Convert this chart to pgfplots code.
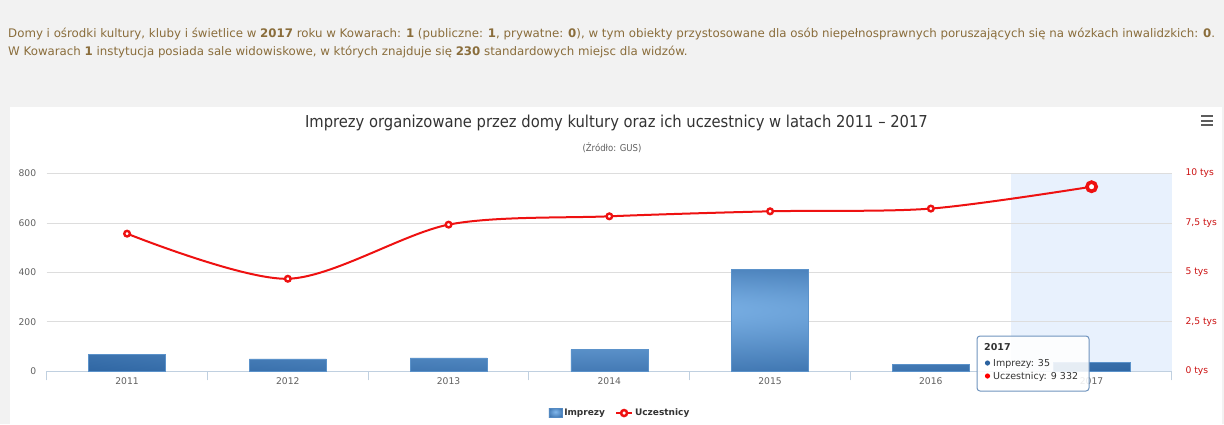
\documentclass[border=0pt]{standalone}
\usepackage{fontspec}
\setmainfont{DejaVu Sans}
\newfontfamily\condfont{DejaVu Sans Condensed}
\usepackage{pgfplots}
\pgfplotsset{compat=1.18}

\definecolor{bgc}{HTML}{F2F2F2}
\definecolor{hdr}{HTML}{8A6D3B}
\definecolor{axisc}{HTML}{C0D0E0}
\definecolor{gridc}{HTML}{DDDDDD}
\definecolor{lab}{HTML}{606060}
\definecolor{ttl}{HTML}{333333}
\definecolor{linec}{HTML}{EE1111}
\definecolor{rlab}{HTML}{CC1111}
\definecolor{band}{HTML}{E8F1FD}
\definecolor{barin}{HTML}{82B8EC}
\definecolor{barout}{HTML}{2C63A0}
\definecolor{tipb}{HTML}{7094BE}

\pgfdeclareradialshading{barshade}{\pgfpoint{0bp}{6bp}}{%
  color(0bp)=(barin); color(38bp)=(barout); color(50bp)=(barout)}

\pgfplotsset{plotarea/.style={scale only axis, width=1125.3pt, height=197.8pt,
  at={(46.7pt,-371.3pt)}, anchor=south west, xmin=-0.5, xmax=6.5}}

\begin{document}
\begin{tikzpicture}
\fill[bgc] (0,0) rectangle (1224pt,-424pt);
\fill[white] (10pt,-107pt) rectangle (1222pt,-424pt);

% header text
\node[anchor=base west, inner sep=0, text=hdr, font=\fontsize{11.8}{14}\selectfont] at (8pt,-37pt)
 {Domy i ośrodki kultury, kluby i świetlice w \textbf{2017} roku w Kowarach: \textbf{1} (publiczne: \textbf{1}, prywatne: \textbf{0}), w tym obiekty przystosowane dla osób niepełnosprawnych poruszających się na wózkach inwalidzkich: \textbf{0}.};
\node[anchor=base west, inner sep=0, text=hdr, font=\fontsize{11.8}{14}\selectfont] at (8pt,-55pt)
 {W Kowarach \textbf{1} instytucja posiada sale widowiskowe, w których znajduje się \textbf{230} standardowych miejsc dla widzów.};

% title, subtitle, menu
\node[text=ttl, font=\condfont\fontsize{16.4}{19}\selectfont] at (616.5pt,-123pt)
 {Imprezy organizowane przez domy kultury oraz ich uczestnicy w latach 2011 – 2017};
\node[text=lab, font=\condfont\fontsize{9.5}{11}\selectfont] at (612pt,-148pt) {(Źródło: GUS)};
\foreach \yy in {116,120.5,125}
  \draw[ttl!80, line width=2pt] (1201pt,-\yy pt) -- (1213pt,-\yy pt);

% hover band for 2017
\begin{axis}[plotarea, ymin=0, ymax=800, hide axis]
\fill[band] (axis cs:5.5,0) rectangle (axis cs:6.5,800);
\end{axis}

\begin{axis}[
  plotarea, ymin=0, ymax=800,
  xtick={0,...,6}, xticklabels={2011,2012,2013,2014,2015,2016,2017},
  minor xtick={-0.5,0.5,...,6.5},
  ytick={0,200,...,800},
  axis x line*=bottom, axis y line*=left,
  x axis line style={draw=axisc, line width=1pt, -},
  y axis line style={draw=none},
  ymajorgrids, grid style={gridc, line width=0.8pt},
  tick align=outside,
  major tick length=0pt, minor tick length=9pt,
  minor x tick style={draw=axisc, line width=1pt},
  major x tick style={draw=none}, y tick style={draw=none},
  /pgf/number format/assume math mode=true,
  ticklabel style={font=\fontsize{9.2}{11}\selectfont, text=lab},
  xticklabel style={yshift=-3pt},
  yticklabel style={xshift=-7pt},
  legend style={at={(0.5095,-0.211)}, anchor=center, draw=none, fill=none,
    legend columns=2, font=\bfseries\fontsize{9}{11}\selectfont, text=ttl,
    /tikz/every even column/.append style={column sep=8pt}},
  legend cell align=left,
]
\addplot[ybar, bar width=77pt, draw=barin!55!barout, line width=0.6pt, shading=barshade,
  legend image code/.code={\fill[barin!45!barout] (0pt,-4.5pt) rectangle (13pt,5pt);}]
  coordinates {(0,67) (1,50) (2,54) (3,88) (4,411) (5,27) (6,35)};
\addlegendentry{Imprezy}
\addlegendimage{legend image code/.code={%
  \draw[linec, line width=2pt] (0pt,0pt) -- (16pt,0pt);
  \draw[linec, line width=2.5pt, fill=white] (8pt,0pt) circle (3pt);}}
\addlegendentry{Uczestnicy}
\end{axis}

\begin{axis}[
  plotarea, ymin=0, ymax=10000,
  hide x axis,
  axis y line*=right, y axis line style={draw=none},
  ytick={0,2500,5000,7500,10000},
  yticklabels={0 tys,{2,5 tys},5 tys,{7,5 tys},10 tys},
  scaled y ticks=false,
  major tick length=0pt, y tick style={draw=none},
  yticklabel style={font=\fontsize{9.2}{11}\selectfont, text=rlab, anchor=west, xshift=10pt},
]
\addplot[linec, line width=2pt, smooth, tension=0.5, mark=*, mark size=2.8pt,
  mark options={fill=white, draw=linec, line width=2.4pt}]
  coordinates {(0,6959) (1,4678) (2,7415) (3,7836) (4,8089) (5,8226) (6,9332)};
\addplot[only marks, mark=*, mark size=4.6pt, mark options={fill=white, draw=linec, line width=3.6pt}]
  coordinates {(6,9332)};
\end{axis}

% tooltip
\draw[tipb, line width=1pt, rounded corners=3pt, fill=white, fill opacity=0.88]
  (977pt,-336pt) rectangle (1089pt,-391pt);
\node[anchor=base west, inner sep=0, text=ttl, font=\bfseries\fontsize{9.5}{11}\selectfont] at (984pt,-350.5pt) {2017};
\fill[barout] (987.5pt,-363pt) circle (2.6pt);
\node[anchor=base west, inner sep=0, text=ttl, font=\fontsize{9.5}{11}\selectfont] at (993pt,-366.5pt) {Imprezy: 35};
\fill[red] (987.5pt,-376pt) circle (2.6pt);
\node[anchor=base west, inner sep=0, text=ttl, font=\fontsize{9.5}{11}\selectfont] at (993pt,-379.5pt) {Uczestnicy: 9 332};

\pgfresetboundingbox
\path[use as bounding box] (0,0) rectangle (1224pt,-424pt);
\end{tikzpicture}
\end{document}
